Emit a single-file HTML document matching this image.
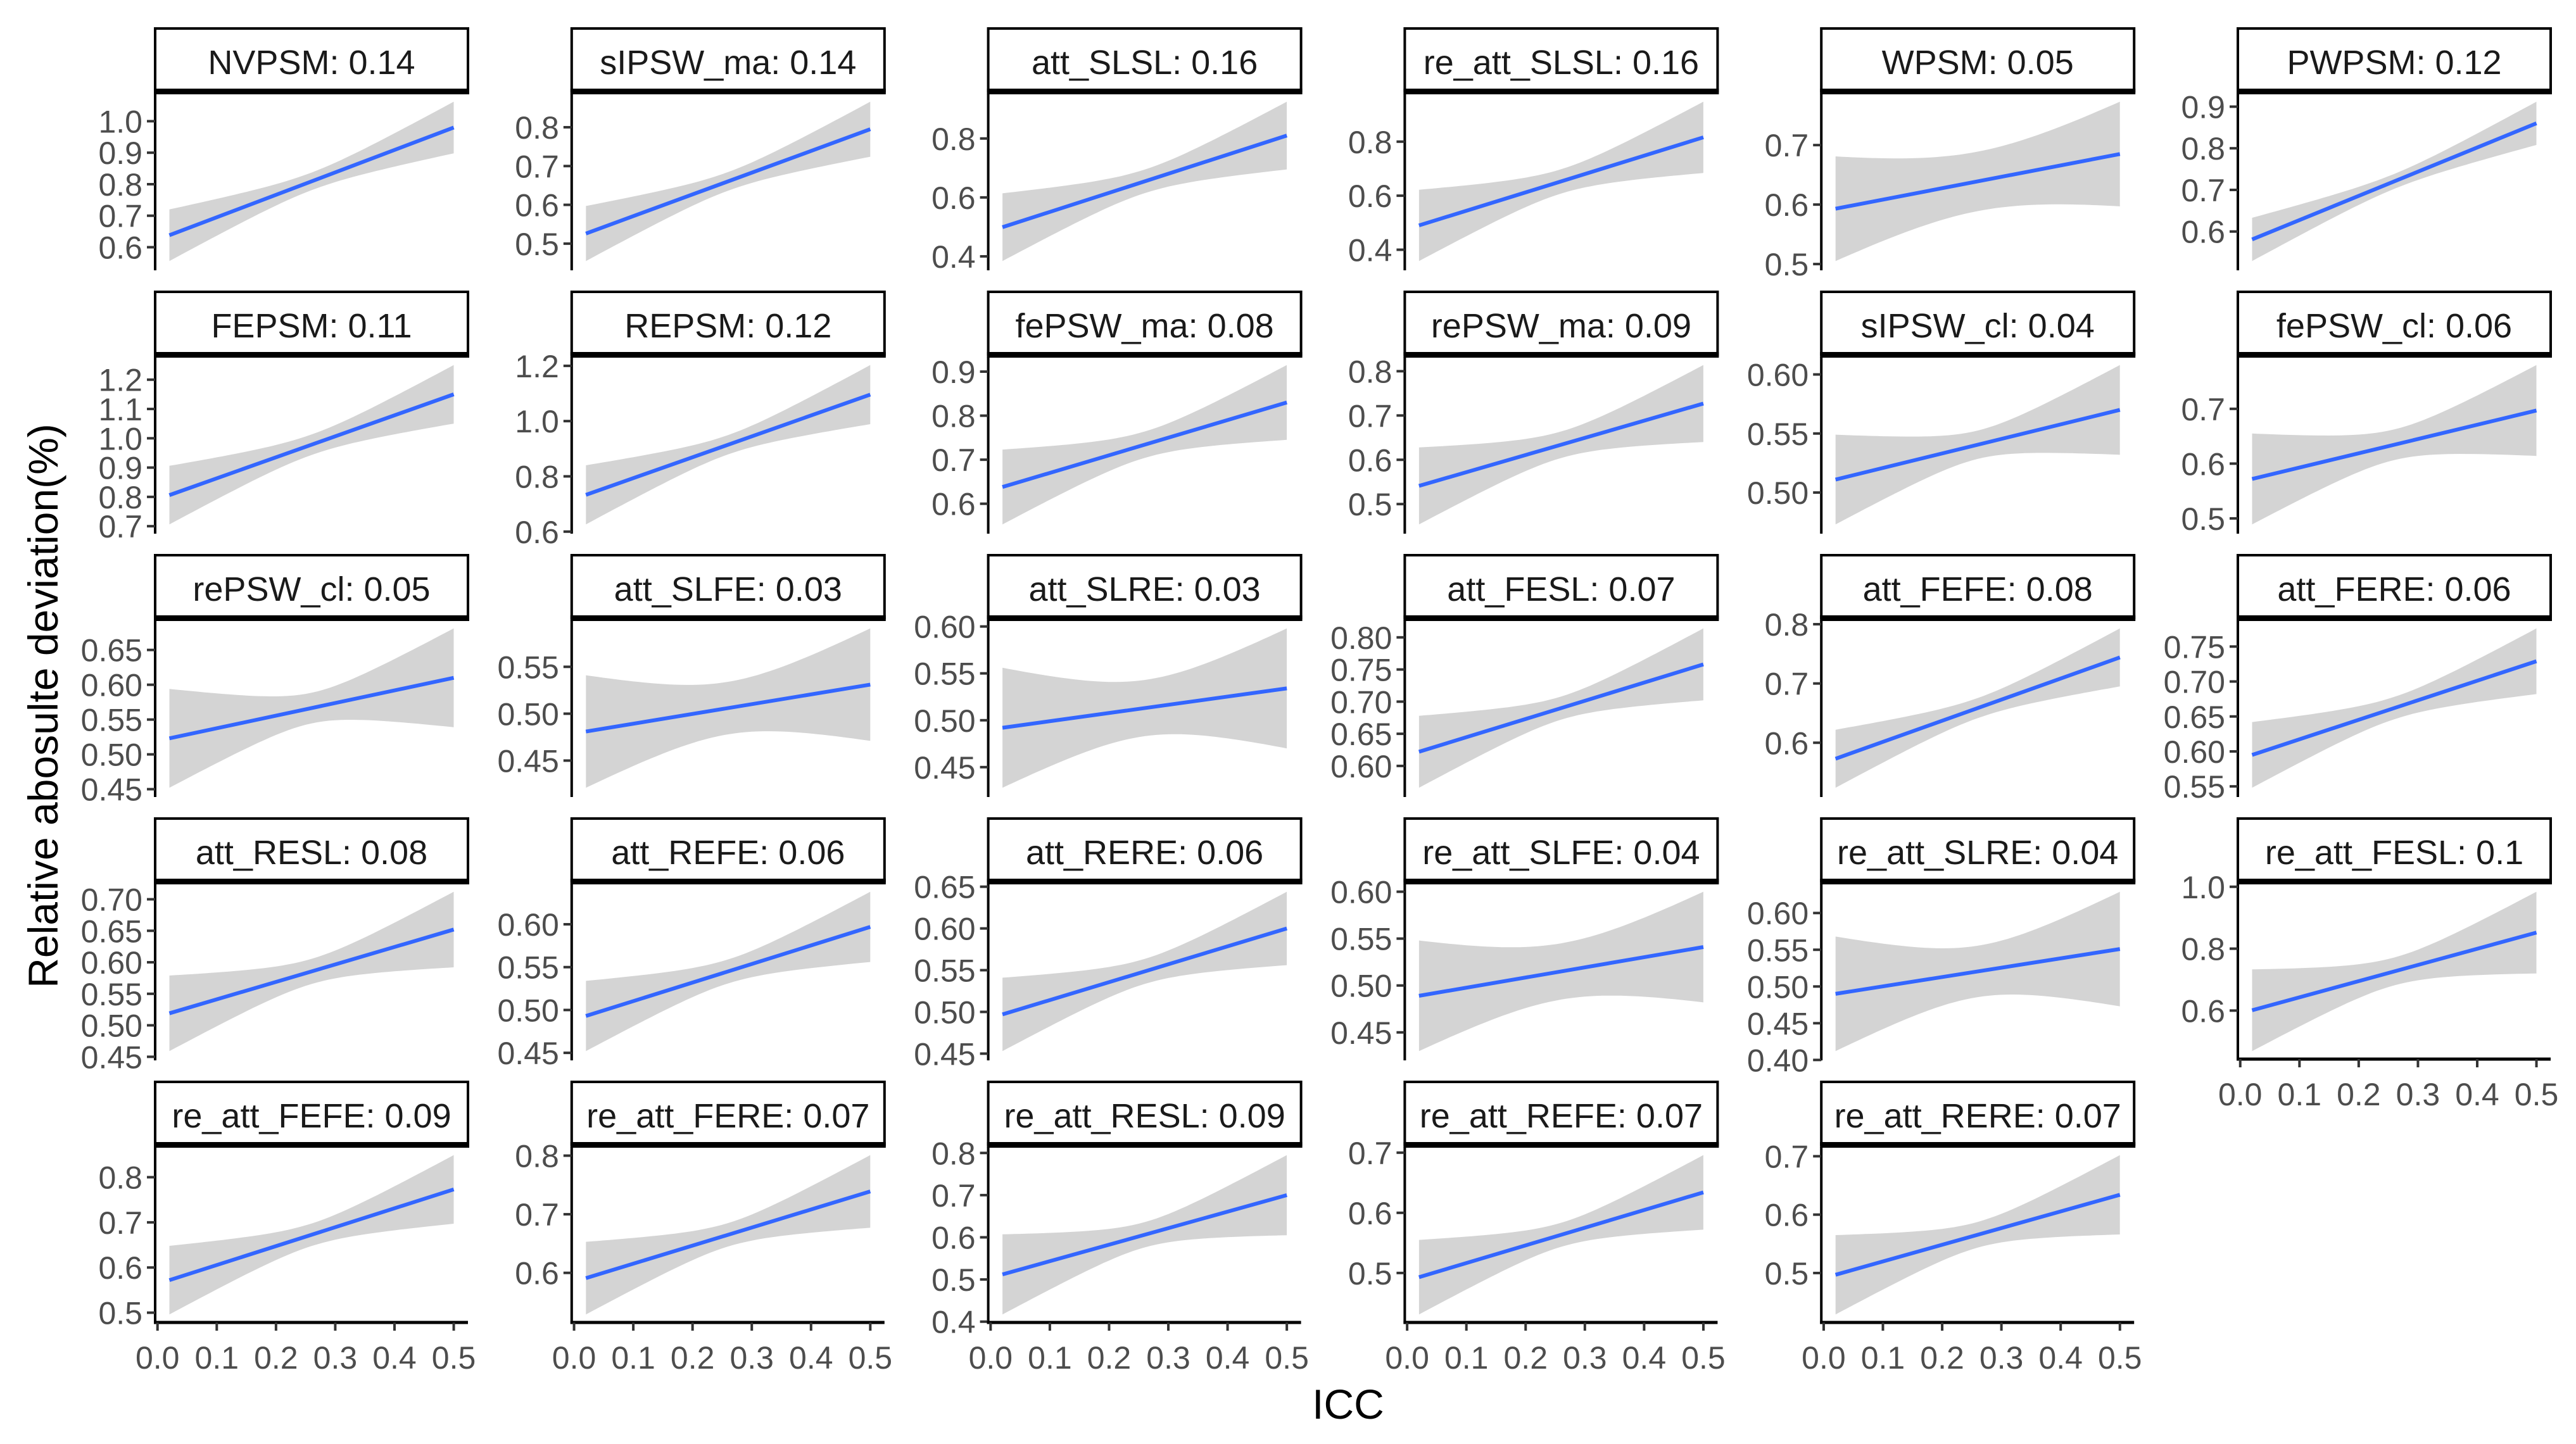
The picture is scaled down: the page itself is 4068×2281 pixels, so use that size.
<!DOCTYPE html>
<html>
<head>
<meta charset="utf-8">
<style>
html,body{margin:0;padding:0;background:#fff;}
svg{display:block;}
text{font-family:"Liberation Sans",Arial,sans-serif;}
</style>
</head>
<body>
<svg id="chart" xmlns="http://www.w3.org/2000/svg" width="4068" height="2281" viewBox="0 0 4068 2281">
<rect x="0" y="0" width="4068" height="2281" fill="#fff"/>
<text x="0" y="0" transform="translate(91,1115) rotate(-90)" text-anchor="middle" font-size="66" fill="#000">Relative abosulte deviation(%)</text>
<text x="2129" y="2241" text-anchor="middle" font-size="66" fill="#000">ICC</text>
</svg>
<script>
const panelNames = ["NVPSM","sIPSW_ma","att_SLSL","re_att_SLSL","WPSM","PWPSM",
"FEPSM","REPSM","fePSW_ma","rePSW_ma","sIPSW_cl","fePSW_cl",
"rePSW_cl","att_SLFE","att_SLRE","att_FESL","att_FEFE","att_FERE",
"att_RESL","att_REFE","att_RERE","re_att_SLFE","re_att_SLRE","re_att_FESL",
"re_att_FEFE","re_att_FERE","re_att_RESL","re_att_REFE","re_att_RERE"];
const panelICC = ["0.14","0.14","0.16","0.16","0.05","0.12",
"0.11","0.12","0.08","0.09","0.04","0.06",
"0.05","0.03","0.03","0.07","0.08","0.06",
"0.08","0.06","0.06","0.04","0.04","0.1",
"0.09","0.07","0.09","0.07","0.07"];
const yTicks = [
[0.6,0.7,0.8,0.9,1.0],[0.5,0.6,0.7,0.8],[0.4,0.6,0.8],[0.4,0.6,0.8],[0.5,0.6,0.7],[0.6,0.7,0.8,0.9],
[0.7,0.8,0.9,1.0,1.1,1.2],[0.6,0.8,1.0,1.2],[0.6,0.7,0.8,0.9],[0.5,0.6,0.7,0.8],[0.50,0.55,0.60],[0.5,0.6,0.7],
[0.45,0.50,0.55,0.60,0.65],[0.45,0.50,0.55],[0.45,0.50,0.55,0.60],[0.60,0.65,0.70,0.75,0.80],[0.6,0.7,0.8],[0.55,0.60,0.65,0.70,0.75],
[0.45,0.50,0.55,0.60,0.65,0.70],[0.45,0.50,0.55,0.60],[0.45,0.50,0.55,0.60,0.65],[0.45,0.50,0.55,0.60],[0.40,0.45,0.50,0.55,0.60],[0.6,0.8,1.0],
[0.5,0.6,0.7,0.8],[0.6,0.7,0.8],[0.4,0.5,0.6,0.7,0.8],[0.5,0.6,0.7],[0.5,0.6,0.7]];
const lineStart = [0.638,0.526,0.499,0.49,0.593,0.581,
0.806,0.733,0.638,0.541,0.511,0.572,
0.523,0.481,0.492,0.622,0.573,0.595,
0.519,0.493,0.497,0.489,0.49,0.601,
0.572,0.591,0.512,0.493,0.497];
const lineEnd = [0.98,0.795,0.81,0.816,0.685,0.86,
1.15,1.096,0.83,0.727,0.57,0.697,
0.61,0.531,0.534,0.758,0.744,0.729,
0.652,0.597,0.60,0.541,0.551,0.852,
0.773,0.739,0.70,0.634,0.634];
const bandEnd = [0.082,0.071,0.115,0.132,0.088,0.052,
0.1,0.107,0.085,0.087,0.038,0.083,
0.071,0.06,0.064,0.056,0.049,0.047,
0.06,0.041,0.044,0.059,0.078,0.132,
0.076,0.062,0.095,0.062,0.068];
const bandMid = [0.028,0.024,0.04,0.045,0.05,0.018,
0.035,0.035,0.03,0.03,0.012,0.028,
0.022,0.028,0.03,0.018,0.017,0.016,
0.02,0.014,0.015,0.03,0.035,0.045,
0.025,0.02,0.03,0.02,0.022];
const xTicks = [0.0,0.1,0.2,0.3,0.4,0.5];
const xDataMin = 0.02, xDataMax = 0.5;

const NS = "http://www.w3.org/2000/svg";
const svg = document.getElementById("chart");
function mk(tag, attrs, parent){
  const e = document.createElementNS(NS, tag);
  for (const k in attrs) e.setAttribute(k, attrs[k]);
  (parent||svg).appendChild(e);
  return e;
}
const COL0 = 245, COLP = 657.8, PW = 494;
const ROW0 = 43, ROWP = 416, STRIPH = 105, PH = 277;
const xDom = [-0.004, 0.524];

panelNames.forEach((nm, i) => {
  const col = i % 6, row = Math.floor(i / 6);
  const L = COL0 + col * COLP, T = ROW0 + row * ROWP;
  const pTop = T + STRIPH, pBot = pTop + PH;
  const g = mk("g", {});
  
  
  const xs = v => L + (v - xDom[0]) / (xDom[1] - xDom[0]) * PW;
  // band
  const N = 48, xm = (xDataMin + xDataMax) / 2, hx = (xDataMax - xDataMin) / 2;
  const pts = [];
  for (let k = 0; k <= N; k++) {
    const x = xDataMin + (xDataMax - xDataMin) * k / N;
    const y = lineStart[i] + (lineEnd[i] - lineStart[i]) * (x - xDataMin) / (xDataMax - xDataMin);
    const t = (x - xm) / hx;
    const h = Math.sqrt(bandMid[i] * bandMid[i] + (bandEnd[i] * bandEnd[i] - bandMid[i] * bandMid[i]) * t * t);
    pts.push([x, y, h]);
  }
  let bmin = Infinity, bmax = -Infinity;
  pts.forEach(p => { bmin = Math.min(bmin, p[1] - p[2]); bmax = Math.max(bmax, p[1] + p[2]); });
  const span = bmax - bmin;
  const yMin = bmin - 0.05 * span, yMax = bmax + 0.05 * span;
  const ys = v => pBot - (v - yMin) / (yMax - yMin) * PH;
  let d = "";
  pts.forEach((p, k) => { d += (k ? "L" : "M") + xs(p[0]).toFixed(1) + "," + ys(p[1] + p[2]).toFixed(1); });
  for (let k = pts.length - 1; k >= 0; k--) d += "L" + xs(pts[k][0]).toFixed(1) + "," + ys(pts[k][1] - pts[k][2]).toFixed(1);
  d += "Z";
  const band = mk("path", {d: d, fill: "#d4d4d4", stroke: "none"}, g);
  
  
  const ln = mk("line", {x1: xs(xDataMin), y1: ys(lineStart[i]), x2: xs(xDataMax), y2: ys(lineEnd[i]), stroke: "#3366FF", "stroke-width": 6}, g);
  
  
  // y axis
  const ya = mk("line", {x1: L, y1: pTop, x2: L, y2: pBot + 2, stroke: "#000", "stroke-width": 4}, g);
  
  
  const dec = yTicks[i].some(v => Math.abs(v * 10 - Math.round(v * 10)) > 1e-6) ? 2 : 1;
  yTicks[i].forEach(v => {
    const y = ys(v);
    mk("line", {x1: L - 13, y1: y, x2: L, y2: y, stroke: "#333", "stroke-width": 4}, g);
    const t = mk("text", {x: L - 20, y: y + 18, "text-anchor": "end", "font-size": 50, fill: "#4d4d4d"}, g);
    
    
    t.textContent = v.toFixed(dec);
  });
  // strip
  const st = mk("rect", {x: L, y: T + 2, width: PW, height: STRIPH - 6, fill: "#fff", stroke: "#000", "stroke-width": 4}, g);
  
  
  mk("rect", {x: L - 2, y: pTop - 8, width: PW + 4, height: 9, fill: "#000"}, g);
  const stt = mk("text", {x: L + PW / 2, y: T + 74, "text-anchor": "middle", "font-size": 54, fill: "#1a1a1a"}, g);
  
  
  stt.textContent = nm + ": " + panelICC[i];
  // x axis
  const hasX = row === 4 || (row === 3 && col === 5);
  if (hasX) {
    const xa = mk("line", {x1: L - 2, y1: pBot, x2: L + PW, y2: pBot, stroke: "#000", "stroke-width": 5}, g);
    
    
    xTicks.forEach(v => {
      const x = xs(v);
      mk("line", {x1: x, y1: pBot, x2: x, y2: pBot + 13, stroke: "#333", "stroke-width": 4}, g);
      const t = mk("text", {x: x, y: pBot + 73, "text-anchor": "middle", "font-size": 50, fill: "#4d4d4d"}, g);
      
      
      t.textContent = v.toFixed(1);
    });
  }
});
</script>
</body>
</html>
